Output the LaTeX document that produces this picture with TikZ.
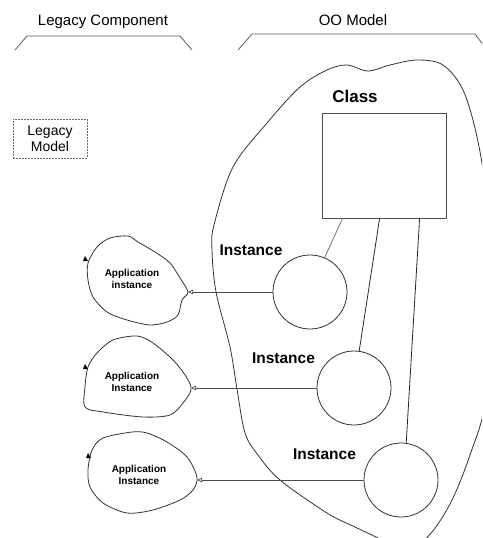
\documentclass[tikz,border=0pt]{standalone}
\usepackage{fontspec}
\setmainfont{Liberation Sans}
\usetikzlibrary{arrows.meta,calc}

\begin{document}
\begin{tikzpicture}[x=1pt,y=-1pt,
  ink/.style={draw=black!80, line width=0.8pt},
  header/.style={font=\fontsize{15}{18}\selectfont, anchor=base, inner sep=0pt},
  bigtext/.style={font=\bfseries\fontsize{15.5}{18}\selectfont, anchor=base, inner sep=0pt},
  apptext/.style={font=\bfseries\fontsize{10}{12}\selectfont, align=center, inner sep=0pt},
  instcircle/.style={ink, circle, minimum size=74pt, inner sep=0pt},
  classbox/.style={draw=black!70, line width=0.8pt, rectangle, minimum width=124pt, minimum height=105pt, inner sep=0pt},
  legacybox/.style={draw=black!60, line width=0.7pt, dash pattern=on 2pt off 1pt, rectangle,
    minimum width=74pt, minimum height=39pt, inner sep=0pt, align=center,
    font=\fontsize{14}{16}\selectfont},
  link/.style={draw=black!85, line width=0.8pt},
  flow/.style={draw=black!70, line width=0.7pt, -{Triangle[open, length=5pt, width=4.5pt]}},
  startmark/.style={fill=black}
]
\useasboundingbox (0,0) rectangle (482,538);

% section headers and their brackets
\node[header] (hLegacy) at (103,25) {Legacy Component};
\node[header] (hOO) at (353,25) {OO Model};
\draw[ink, draw=black!65] (15,50) -- (27,36) -- (180,36) -- (192,50);
\begin{scope}
  \clip (0,0) rectangle (482,538);
  \draw[ink, draw=black!65] (238,50) -- (252,34) -- (475,34) -- (487,50);
  % boundary of the object model
  \draw[ink] plot[smooth cycle, tension=0.55] coordinates {
    (300,87) (327,70) (347,65) (368,71) (390,65) (417,60) (443,65) (463,90)
    (477,137) (487,200) (494,300) (486,400) (470,455) (452,500) (432,532)
    (412,548) (392,544) (355,527) (327,513) (280,480) (258,455) (245,433)
    (237,389) (230,347) (216,292) (212,250) (214,225) (233,167) (267,123)};
\end{scope}

% legacy model box
\node[legacybox] (legacy) at (50,138.5) {Legacy\\Model};

% class and its instances
\node[bigtext, font=\bfseries\fontsize{17}{20}\selectfont] (classLabel) at (355,102) {Class};
\node[classbox] (cls) at (384,165.5) {};

\node[instcircle] (c1) at (310,292) {};
\node[instcircle] (c2) at (354,388) {};
\node[instcircle] (c3) at (401,480) {};

\node[bigtext] (i1) at (251,255) {Instance};
\node[bigtext] (i2) at (283.5,363) {Instance};
\node[bigtext] (i3) at (324.5,459) {Instance};

\draw[link, draw=black!55] ($(cls.south west)+(21,0)$) -- (c1.67);
\draw[link] ($(cls.south west)+(58,0)$) -- (c2.82);
\draw[link] ($(cls.south west)+(98,0)$) -- (c3.82);

% application instances (freehand outlines)
\draw[ink] plot[smooth cycle, tension=0.5] coordinates {
  (110,238) (128,236) (138,242) (155,252) (170,263) (180,278) (188,292)
  (182,300) (178,315) (167,322) (150,325) (127,320) (107,312) (93,297)
  (88,280) (88,263) (97,247)};
\draw[ink] plot[smooth cycle, tension=0.5] coordinates {
  (137,336) (153,343) (173,360) (187,378) (191,390) (183,403) (170,415)
  (143,417) (103,412) (85,407) (85,387) (88,367) (97,353) (113,340)};
\draw[ink] plot[smooth cycle, tension=0.5] coordinates {
  (132,432) (147,433) (167,442) (187,457) (197,477) (193,490) (180,500)
  (153,510) (127,513) (103,503) (90,487) (88,470) (92,450) (103,438)};

\node[apptext] (a1) at (132,279) {Application\\instance};
\node[apptext] (a2) at (132,382) {Application\\Instance};
\node[apptext] (a3) at (139,475) {Application\\Instance};

% small start marks on the outlines
\fill[startmark] (83,261) -- (88,261) -- (85,256) -- cycle;
\fill[startmark] (83,369) -- (88,369) -- (85,364) -- cycle;
\fill[startmark] (86,458) -- (91,458) -- (88,453) -- cycle;

% links from object instances to application instances
\coordinate (e1) at (188,292);
\coordinate (e2) at (191,388);
\coordinate (e3) at (197,480);
\draw[flow] (c1.west) -- (e1);
\draw[flow] (c2.west) -- (e2);
\draw[flow] (c3.west) -- (e3);
\end{tikzpicture}
\end{document}
